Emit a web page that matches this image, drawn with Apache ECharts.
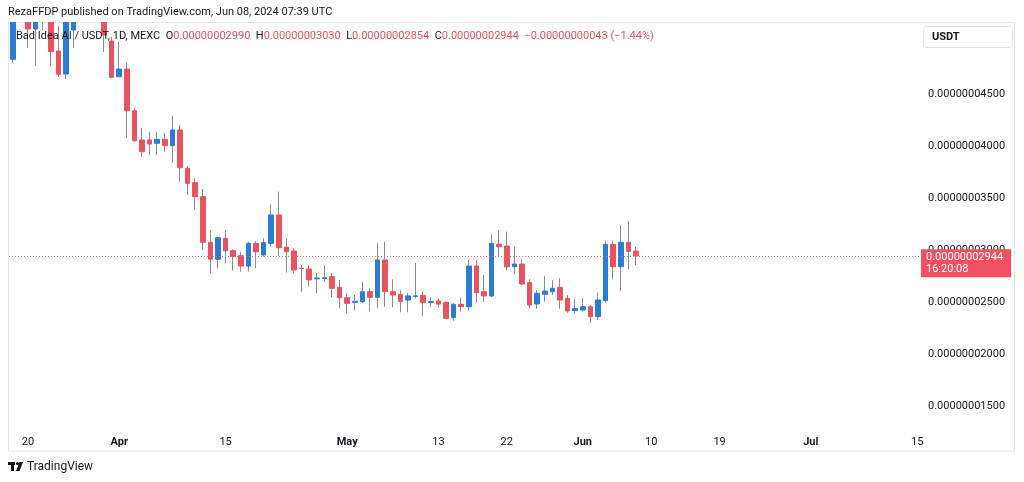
<!DOCTYPE html>
<html>
<head>
<meta charset="utf-8">
<script src="https://cdn.jsdelivr.net/npm/echarts@6/dist/echarts.min.js"></script>
<style>
html,body{margin:0;padding:0;background:#fff;}
#chart{width:1024px;height:482px;}
</style>
</head>
<body>
<div id="chart"></div>
<script>
// Prices in units of 1e-8 USDT
const startDate = '2024-03-18';
const openP  = [4.834,5.70,5.50,5.125,5.70,5.40,4.913,4.692,5.115,5.30,5.60,5.50,5.30,5.010,4.666,4.740,4.339,4.058,4.058,4.026,
  4.064,4.003,4.154,3.786,3.647,3.513,3.074,2.911,3.112,2.993,2.945,2.846,3.064,2.952,3.064,3.337,3.026,2.990,2.824,2.817,
  2.723,2.726,2.744,2.641,2.541,2.497,2.503,2.599,2.545,2.904,2.599,2.571,2.519,2.552,2.564,2.497,2.510,2.497,2.349,2.478,
  2.455,2.846,2.599,2.558,3.055,3.038,2.839,2.865,2.686,2.481,2.574,2.599,2.641,2.535,2.417,2.423,2.455,2.359,2.513,3.055,
  2.839,3.074,2.990];
const highP  = [5.80,6.00,5.70,5.80,5.90,5.60,5.154,5.50,5.45,5.70,5.80,5.70,5.40,5.051,5.003,4.801,4.360,4.173,4.138,4.138,
  4.125,4.288,4.202,3.808,3.689,3.587,3.192,3.128,3.192,3.007,2.983,3.080,3.087,3.113,3.439,3.561,3.113,3.016,2.856,2.856,
  2.782,2.856,2.779,2.711,2.584,2.567,2.695,2.632,3.064,3.080,2.718,2.612,2.584,2.878,2.599,2.545,2.536,2.503,2.490,2.541,
  2.904,2.904,2.760,3.151,3.192,3.176,3.032,2.911,2.718,2.615,2.750,2.712,2.728,2.567,2.526,2.536,2.471,2.590,3.089,3.089,
  3.240,3.279,3.030];
const lowP   = [4.801,5.25,4.942,4.769,5.115,4.762,4.666,4.644,4.942,5.20,5.30,5.25,4.904,4.650,4.660,4.077,4.041,3.897,3.913,3.913,
  3.945,3.839,3.657,3.529,3.391,3.007,2.776,2.824,2.872,2.801,2.791,2.791,2.824,2.936,3.032,2.942,2.782,2.776,2.599,2.647,
  2.584,2.695,2.545,2.439,2.392,2.416,2.490,2.407,2.439,2.455,2.449,2.401,2.401,2.536,2.365,2.449,2.449,2.337,2.320,2.407,
  2.423,2.493,2.503,2.545,2.930,2.808,2.766,2.663,2.445,2.433,2.503,2.567,2.433,2.397,2.391,2.407,2.301,2.327,2.487,2.718,
  2.606,2.814,2.854];
const closeP = [5.60,5.50,5.125,5.60,5.40,4.907,4.689,5.40,5.30,5.60,5.50,5.35,5.067,4.661,4.740,4.339,4.051,3.945,4.019,4.064,
  4.003,4.154,3.791,3.641,3.513,3.074,2.911,3.118,2.993,2.936,2.846,3.064,2.983,3.070,3.337,3.022,2.983,2.808,2.821,2.712,
  2.731,2.733,2.632,2.541,2.487,2.507,2.599,2.545,2.904,2.599,2.567,2.506,2.558,2.559,2.493,2.504,2.481,2.343,2.478,2.455,
  2.846,2.589,2.558,3.064,3.032,2.839,2.865,2.673,2.471,2.584,2.606,2.632,2.519,2.413,2.436,2.455,2.359,2.519,3.055,2.839,
  3.074,2.987,2.944];
const totalDays = 120;
const tickLabels = {'2024-03-20':'20','2024-04-01':'Apr','2024-04-15':'15','2024-05-01':'May','2024-05-13':'13',
  '2024-05-22':'22','2024-06-01':'Jun','2024-06-10':'10','2024-06-19':'19','2024-07-01':'Jul','2024-07-15':'15'};
const monthTicks = ['Apr','May','Jun','Jul'];
const yTicks = [1.5,2.0,2.5,3.0,3.5,4.0,4.5];
const countdown = '16:20:08';

const UP = '#2b7cd3', DOWN = '#e9525f', WICK = '#8a8d93', TXT = '#131722';
const FONT = 'Roboto, "Noto Sans", sans-serif';

const dates = [];
const d0 = new Date(startDate + 'T00:00:00Z');
for (let i = 0; i < totalDays; i++) {
  const d = new Date(d0.getTime() + i * 86400000);
  dates.push(d.toISOString().slice(0, 10));
}
const wickData = openP.map((o, i) => [lowP[i], lowP[i], lowP[i], highP[i]]);
const bodyData = openP.map((o, i) => [o, closeP[i], Math.min(o, closeP[i]), Math.max(o, closeP[i])]);

const fmt = v => (v / 1e8).toFixed(11);
const n = closeP.length;
const lastO = openP[n-1], lastH = highP[n-1], lastL = lowP[n-1], lastC = closeP[n-1], prevC = closeP[n-2];
const chg = lastC - prevC;
const chgStr = (chg < 0 ? '\u2212' : '+') + fmt(Math.abs(chg));
const pctStr = (chg < 0 ? '\u2212' : '+') + Math.abs(chg / prevC * 100).toFixed(2) + '%';

const chart = echarts.init(document.getElementById('chart'), null, {renderer: 'canvas'});
chart.setOption({
  animation: false,
  backgroundColor: '#fff',
  textStyle: {fontFamily: FONT},
  grid: {left: 9, right: 103, top: 22, bottom: 24, containLabel: false},
  xAxis: {
    type: 'category', data: dates, boundaryGap: true,
    offset: -24,
    axisLine: {show: false}, axisTick: {show: false}, splitLine: {show: false},
    axisLabel: {
      margin: 3, fontSize: 11, color: TXT, fontFamily: FONT,
      interval: (idx, val) => tickLabels[val] !== undefined,
      formatter: val => {
        const t = tickLabels[val];
        if (t === undefined) return '';
        return monthTicks.indexOf(t) >= 0 ? '{b|' + t + '}' : t;
      },
      rich: {b: {fontWeight: 'bold', fontSize: 11, color: TXT, fontFamily: FONT}}
    }
  },
  yAxis: {
    type: 'value', position: 'right', scale: false,
    min: 1.0, max: 5.1923, interval: 0.5,
    axisLine: {show: false}, axisTick: {show: false}, splitLine: {show: false},
    axisLabel: {
      margin: 7, fontSize: 11, color: TXT, fontFamily: FONT,
      showMinLabel: false, showMaxLabel: false,
      formatter: v => {
        for (const t of yTicks) if (Math.abs(v - t) < 1e-6) return fmt(t);
        return '';
      }
    }
  },
  series: [
    {
      type: 'candlestick', name: 'wick', data: wickData, barWidth: 1, clip: true, silent: true,
      itemStyle: {color: WICK, color0: WICK, borderColor: WICK, borderColor0: WICK, borderWidth: 1}
    },
    {
      type: 'candlestick', name: 'body', data: bodyData, barWidth: 5, clip: true, silent: true,
      itemStyle: {color: UP, color0: DOWN, borderColor: UP, borderColor0: DOWN, borderWidth: 1},
      markLine: {
        symbol: 'none', silent: true,
        data: [{yAxis: lastC}],
        lineStyle: {type: [1, 2], color: '#ef6f79', width: 1},
        label: {
          show: true, position: 'end', distance: 0,
          formatter: fmt(lastC) + '\n' + countdown,
          backgroundColor: '#f0505f', color: '#fff', fontSize: 11, lineHeight: 12,
          fontFamily: FONT, padding: [2, 8, 2, 5], offset: [0, 7], align: 'left'
        }
      }
    }
  ],
  graphic: [
    {type: 'rect', z: 1, silent: true, shape: {x: 8.5, y: 22.5, width: 1006, height: 428.5},
      style: {fill: 'none', stroke: '#e3e5eb', lineWidth: 1}},
    // mask above the pane so candles are clipped at its top edge
    {type: 'rect', z: 5, silent: true, shape: {x: 0, y: 0, width: 1024, height: 22},
      style: {fill: '#fff'}},
    {type: 'text', z: 10, x: 8, y: 12, silent: true,
      style: {text: 'RezaFFDP published on TradingView.com, Jun 08, 2024 07:39 UTC', font: '11px ' + FONT, fill: TXT, verticalAlign: 'middle', textVerticalAlign: 'middle'}},
    {type: 'text', z: 10, x: 16, y: 36, silent: true,
      style: {
        text: '{n|Bad Idea AI / USDT, 1D, MEXC}  {k|O}{v|' + fmt(lastO) + '}  {k|H}{v|' + fmt(lastH) + '}  {k|L}{v|' + fmt(lastL) +
              '}  {k|C}{v|' + fmt(lastC) + '}  {v|' + chgStr + ' (' + pctStr + ')}',
        font: '11px ' + FONT, fill: TXT, verticalAlign: 'middle', textVerticalAlign: 'middle',
        rich: {
          n: {fill: TXT, font: '11px ' + FONT},
          k: {fill: TXT, font: '11px ' + FONT},
          v: {fill: '#e9525f', font: '11px ' + FONT}
        }
      }},
    {type: 'rect', z: 10, silent: true, shape: {x: 923.5, y: 26.5, width: 89, height: 21, r: 3},
      style: {fill: '#fff', stroke: '#e0e3eb', lineWidth: 1}},
    {type: 'text', z: 11, x: 932, y: 37, silent: true,
      style: {text: 'USDT', font: 'bold 11px ' + FONT, fill: TXT, verticalAlign: 'middle', textVerticalAlign: 'middle'}},
    // TradingView logo
    {type: 'rect', z: 10, silent: true, shape: {x: 8, y: 462, width: 7, height: 3}, style: {fill: TXT}},
    {type: 'rect', z: 10, silent: true, shape: {x: 11, y: 462, width: 3, height: 9}, style: {fill: TXT}},
    {type: 'circle', z: 10, silent: true, shape: {cx: 17.5, cy: 463.5, r: 1.6}, style: {fill: TXT}},
    {type: 'polygon', z: 10, silent: true, shape: {points: [[19.5, 462], [23, 462], [19.5, 471], [16, 471]]}, style: {fill: TXT}},
    {type: 'text', z: 10, x: 27, y: 467, silent: true,
      style: {text: 'TradingView', font: '12px ' + FONT, fill: TXT, verticalAlign: 'middle', textVerticalAlign: 'middle'}}
  ]
});
</script>
</body>
</html>
